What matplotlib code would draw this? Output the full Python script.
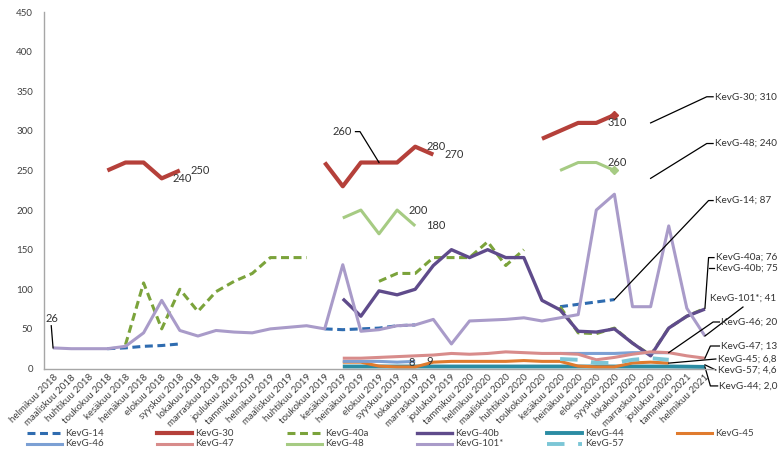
import numpy as np
import matplotlib.pyplot as plt
from matplotlib.lines import Line2D

plt.rcParams['font.family'] = ['Lato', 'DejaVu Sans']

N = np.nan

months = ['helmikuu 2018', 'maaliskuu 2018', 'huhtikuu 2018', 'toukokuu 2018',
          'kesäkuu 2018', 'heinäkuu 2018', 'elokuu 2018', 'syyskuu 2018',
          'lokakuu 2018', 'marraskuu 2018', 'joulukuu 2018', 'tammikuu 2019',
          'helmikuu 2019', 'maaliskuu 2019', 'huhtikuu 2019', 'toukokuu 2019',
          'kesäkuu 2019', 'heinäkuu 2019', 'elokuu 2019', 'syyskuu 2019',
          'lokakuu 2019', 'marraskuu 2019', 'joulukuu 2019', 'tammikuu 2020',
          'helmikuu 2020', 'maaliskuu 2020', 'huhtikuu 2020', 'toukokuu 2020',
          'kesäkuu 2020', 'heinäkuu 2020', 'elokuu 2020', 'syyskuu 2020',
          'lokakuu 2020', 'marraskuu 2020', 'joulukuu 2020', 'tammikuu 2021',
          'helmikuu 2021']

# monthly values per well, NaN = no measurement
kevg14 = [N, N, N, 25, 26, 28, 29, 31, N, N, N, N, N, N, N,
          50, 49, 50, 51, 54, 55, N, N, N, N, N, N, N,
          78, 81, 84, 87, N, N, N, N, N]
kevg30 = [N, N, N, 250, 260, 260, 240, 250, N, N, N, N, N, N, N,
          260, 230, 260, 260, 260, 280, 270, N, N, N, N, N,
          290, 300, 310, 310, 320, N, 310, N, N, N]
kevg40a = [N, N, N, N, 30, 108, 50, 100, 72, 97, 110, 120, 140, 140, 140,
           N, N, N, 110, 120, 120, 140, 140, 140, 160, 130, 150, N,
           78, 45, 44, 51, 32, 17, 51, 66, 76]
kevg40b = [N] * 16 + [88, 66, 98, 93, 100, 130, 150, 140, 150, 140, 140,
                      86, 74, 47, 46, 50, 32, 16, 51, 66, 75]
kevg44 = [N] * 16 + [2.5, 2.5, 2.5, 2.5, 2.5, 2.5, 2.5, 2.5, 2.5, 2.5, 2.5,
                     2.5, 2.5, 2.5, 2.5, 2.5, 2.5, 2.5, 2.5, 2.3, 2.0]
kevg45 = [N] * 16 + [8, 8, 3, 2, 2, 8, 9, 9, 9, 9, 10, 9, 9, 3, 2, 2, 7, 8, 6.8, N, N]
kevg46 = [N] * 16 + [9, 9, 9, 8, 9, N, N, N, N, N, N, N,
                     19, 19, 19, 19, 20, 20, 20, N, N]
kevg47 = [N] * 16 + [13, 13, 14, 15, 16, 17, 19, 18, 19, 21, 20,
                     19, 19, 18, 11, 14, 18, 21, 20, 16, 13]
kevg48 = [N] * 16 + [190, 200, 170, 200, 180, N, N, N, N, N, N, N,
                     250, 260, 260, 250, N, 240, N, N, N]
kevg101 = [26, 25, 25, 25, 28, 45, 86, 48, 41, 48, 46, 45, 50, 52, 54, 50,
           131, 47, 49, 54, 55, 62, 31, 60, 61, 62, 64, 60, 64, 68,
           200, 220, 78, 78, 180, 76, 41]
kevg57 = [N] * 28 + [12, 11, 7, 7, 11, 13, 11, N, 4.6]

series = [
    ('KevG-14', kevg14, '#2f6cb0', 2.2, (0, (2.6, 1.5))),
    ('KevG-30', kevg30, '#b5403a', 3.0, '-'),
    ('KevG-40a', kevg40a, '#7ba33b', 2.2, (0, (2.6, 1.5))),
    ('KevG-40b', kevg40b, '#5f4b8b', 2.4, '-'),
    ('KevG-44', kevg44, '#2b8ca3', 2.8, '-'),
    ('KevG-45', kevg45, '#e07b2e', 2.2, '-'),
    ('KevG-46', kevg46, '#7ca0d4', 2.2, '-'),
    ('KevG-47', kevg47, '#d88c8b', 2.2, '-'),
    ('KevG-48', kevg48, '#a6cb83', 2.2, '-'),
    ('KevG-101*', kevg101, '#a99bc9', 2.2, '-'),
    ('KevG-57', kevg57, '#7cc6d6', 2.8, (0, (4.5, 3.5))),
]

W, H = 781, 454
fig = plt.figure(figsize=(W / 100, H / 100), dpi=100)
ax = fig.add_axes([44 / W, 1 - 368.5 / H, 670 / W, 356.5 / H])

x = np.arange(len(months))
for name, vals, col, lw, ls in series:
    ax.plot(x, np.array(vals, dtype=float), color=col, lw=lw, ls=ls,
            solid_capstyle='butt', dash_capstyle='butt')

# end markers on the last measured points
ax.plot(x[31], kevg30[31], 'D', color='#b5403a', ms=4)
ax.plot(x[31], kevg48[31], 'D', color='#a6cb83', ms=4)

ax.set_xlim(-0.5, len(months) - 0.5)
ax.set_ylim(0, 450)
ax.set_yticks(range(0, 451, 50))
ax.set_xticks(x)
ax.set_xticklabels(months, rotation=45, ha='right', rotation_mode='anchor')
ax.tick_params(axis='x', length=0, pad=3, labelsize=7, labelcolor='#404040')
ax.tick_params(axis='y', length=0, pad=8, labelsize=7, labelcolor='#404040')
for s in ['top', 'right']:
    ax.spines[s].set_visible(False)
for s in ['left', 'bottom']:
    ax.spines[s].set_color('#a6a6a6')
    ax.spines[s].set_linewidth(1.0)

lbl = dict(fontsize=8, color='#333333', va='center')
side = dict(fontsize=7.2, color='#333333', va='center')


def point_label(vals, i, dx=8, dy=0):
    ax.annotate(f'{vals[i]:g}', (x[i], vals[i]), xytext=(dx, dy),
                textcoords='offset points', ha='left', **lbl)


for i in (6, 7, 20, 21, 30):
    point_label(kevg30, i)
for i in (19, 20, 30):
    point_label(kevg48, i)
for i in (19, 20):
    point_label(kevg46, i)

# labels with leader lines
ax.plot([0, -0.1], [kevg101[0], 54], color='black', lw=0.9, clip_on=False)
ax.text(-0.05, 63, f'{kevg101[0]:g}', ha='center', **lbl)
ax.plot([18, 16.95, 16.7], [kevg30[18], 299, 299], color='black', lw=0.9)
ax.text(16.5, 299, f'{kevg30[18]:g}', ha='right', **lbl)

# series callouts at the right edge
callouts = [
    ('KevG-30; 310', (36.55, 343), [(33, 310), (36.1, 343), (36.45, 343)]),
    ('KevG-48; 240', (36.55, 284), [(33, 240), (36.1, 284), (36.45, 284)]),
    ('KevG-14; 87', (36.55, 212), [(31, 87), (36.2, 212), (36.45, 212)]),
    ('KevG-40a; 76', (36.6, 140), [(36, 76), (36.2, 140), (36.5, 140)]),
    ('KevG-40b; 75', (36.6, 126.5), [(36.2, 126.5), (36.5, 126.5)]),
    ('KevG-101*; 41', (36.3, 89), [(36, 41), (38.1, 77.6)]),
    ('KevG-46; 20', (36.9, 58.7), [(34, 20), (36.45, 58.7), (36.8, 58.7)]),
    ('KevG-47; 13', (36.9, 28.4), [(36, 13), (36.3, 28.4), (36.8, 28.4)]),
    ('KevG-45; 6,8', (36.7, 12), [(34, 6.8), (36.6, 12)]),
    ('KevG-57; 4,6', (36.7, -1.9), [(36, 4.6), (36.6, -1.9)]),
    ('KevG-44; 2,0', (36.8, -22), [(36, 2), (36.3, -22), (36.7, -22)]),
]
for text, (tx, ty), path in callouts:
    px, py = zip(*path)
    ax.plot(px, py, color='black', lw=0.9, clip_on=False)
    ax.text(tx, ty, text, ha='left', **side)

# legend, two rows of fixed-width slots
rows = [series[:6], series[6:]]
for r, row in enumerate(rows):
    yy = 1 - (433 + 11 * r) / H
    for k, (name, vals, col, lw, ls) in enumerate(row):
        x0 = 27 + 130 * k
        fig.add_artist(Line2D([x0 / W, (x0 + 35) / W], [yy, yy], color=col,
                              lw=lw, ls=ls, transform=fig.transFigure))
        fig.text((x0 + 38) / W, yy, name, fontsize=7, color='#404040', va='center')

fig.savefig('out.png', dpi=100)
